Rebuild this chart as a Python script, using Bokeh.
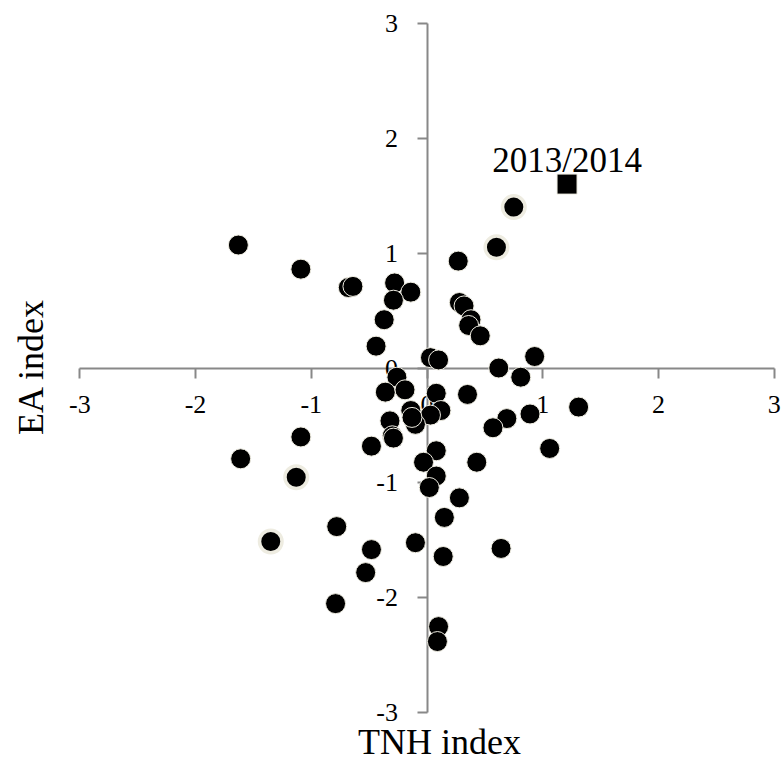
import math
from bokeh.plotting import figure
from bokeh.models import LinearAxis, FixedTicker, Label, Range1d
from bokeh.embed import file_html
from bokeh.resources import INLINE

# ---- data ----
tnh_index = [-1.63, -1.09, -0.68, -0.64, -0.28, -0.14, -0.29, -0.37, -0.44, 0.03,
             0.10, 0.27, 0.28, 0.32, 0.38, 0.36, 0.46, 0.93, 0.62, 0.81,
             1.31, 0.89, 0.69, 0.57, 1.06, 0.35, 0.08, 0.12, 0.03, 0.43,
             0.08, -0.03, 0.08, 0.02, 0.28, 0.15, -0.10, 0.14, 0.64, 0.10,
             0.09, -0.26, -0.36, -0.19, -0.14, -0.10, -0.32, -0.30, -0.29, -0.48,
             -1.09, -1.61, -0.78, -0.48, -0.53, -0.79, -0.13]
ea_index = [1.07, 0.86, 0.70, 0.71, 0.74, 0.66, 0.59, 0.42, 0.19, 0.09,
            0.07, 0.93, 0.57, 0.54, 0.42, 0.37, 0.28, 0.10, 0.00, -0.08,
            -0.34, -0.40, -0.44, -0.52, -0.70, -0.23, -0.22, -0.37, -0.41, -0.82,
            -0.72, -0.82, -0.94, -1.04, -1.13, -1.30, -1.52, -1.64, -1.57, -2.25,
            -2.38, -0.08, -0.21, -0.19, -0.37, -0.49, -0.46, -0.59, -0.61, -0.68,
            -0.60, -0.79, -1.38, -1.58, -1.78, -2.05, -0.43]

ring_tnh = [0.75, 0.60, -1.13, -1.35]
ring_ea = [1.40, 1.05, -0.95, -1.51]

year_tnh = [1.21]
year_ea = [1.60]
year_label = ["2013/2014"]

axis_ticks = [-3, -2, -1, 0, 1, 2, 3]
tick_labels = ["-3", "-2", "-1", "0", "1", "2", "3"]
x_title = "TNH index"
y_title = "EA index"

SERIF = "Liberation Serif"
AXIS_GRAY = "#888888"
RIM = "#EEECE1"

W, H = 783, 762
# pixel layout of the axis cross (the frame spans the whole canvas)
X_LEFT, X_RIGHT = 79.3, 773.7     # pixels of x = -3 and x = 3
Y_TOP, Y_BOTTOM = 22.7, 712.3     # pixels of y = 3 and y = -3
sx = (X_RIGHT - X_LEFT) / 6.0
sy = (Y_BOTTOM - Y_TOP) / 6.0

x_range = Range1d(-3 - X_LEFT / sx, 3 + (W - X_RIGHT) / sx)
y_range = Range1d(-3 - (H - Y_BOTTOM) / sy, 3 + Y_TOP / sy)

p = figure(width=W, height=H, output_backend="svg", toolbar_location=None,
           x_range=x_range, y_range=y_range,
           x_axis_location=None, y_axis_location=None,
           min_border=0, min_border_left=0, min_border_right=0,
           min_border_top=0, min_border_bottom=0)
for g in p.grid:
    g.visible = False
p.outline_line_color = None
p.background_fill_color = "white"
p.border_fill_color = "white"


def style_axis(ax):
    ax.fixed_location = 0
    ax.bounds = (axis_ticks[0], axis_ticks[-1])
    ax.ticker = FixedTicker(ticks=axis_ticks)
    ax.major_label_overrides = dict(zip(axis_ticks, tick_labels))
    ax.axis_line_color = AXIS_GRAY
    ax.axis_line_width = 2
    ax.major_tick_line_color = AXIS_GRAY
    ax.major_tick_line_width = 2
    ax.major_tick_out = 10
    ax.major_tick_in = 0
    ax.minor_tick_out = 0
    ax.minor_tick_in = 0
    ax.major_label_text_font = SERIF
    ax.major_label_text_font_size = "26px"
    ax.major_label_text_color = "black"
    ax.level = "underlay"


xaxis = LinearAxis()
style_axis(xaxis)
xaxis.major_label_standoff = 18
p.add_layout(xaxis, "below")

yaxis = LinearAxis()
style_axis(yaxis)
yaxis.major_label_standoff = 19
p.add_layout(yaxis, "left")

p.scatter(tnh_index, ea_index, marker="circle", size=20,
          fill_color="black", line_color=RIM, line_width=1)
p.scatter(ring_tnh, ring_ea, marker="circle", size=22.5,
          fill_color="black", line_color=RIM, line_width=3.5)
p.scatter(year_tnh, year_ea, marker="square", size=20,
          fill_color="black", line_color=RIM, line_width=1)

# annotation text sits 23 px above the highlighted square
p.add_layout(Label(x=year_tnh[0], y=year_ea[0] + 23.5 / sy, text=year_label[0],
                   text_align="center", text_baseline="middle",
                   text_font=SERIF, text_font_size="35px", text_color="black"))

p.add_layout(Label(x=(439 - X_LEFT) / sx - 3, y=3 - (741 - Y_TOP) / sy, text=x_title,
                   text_align="center", text_baseline="middle",
                   text_font=SERIF, text_font_size="36px", text_color="black"))
p.add_layout(Label(x=(30 - X_LEFT) / sx - 3, y=3 - (366 - Y_TOP) / sy, text=y_title,
                   angle=math.pi / 2,
                   text_align="center", text_baseline="middle",
                   text_font=SERIF, text_font_size="36px", text_color="black"))

open("out.html", "w").write(file_html(p, INLINE))
